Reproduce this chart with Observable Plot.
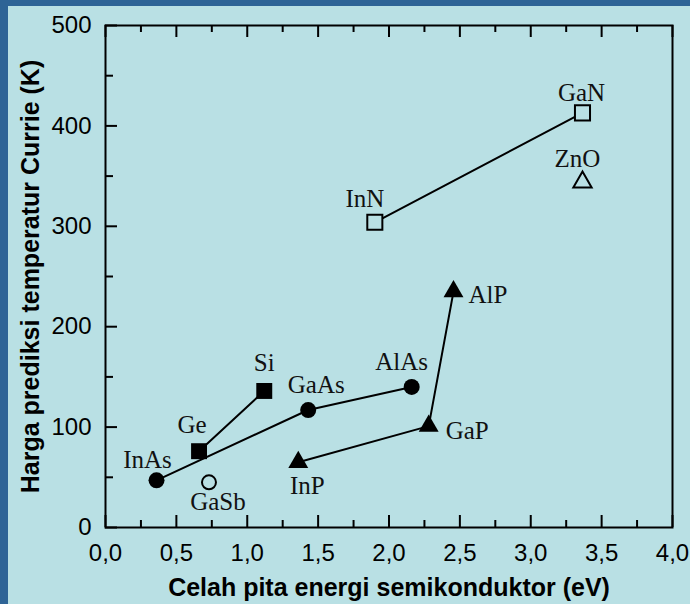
<!DOCTYPE html>
<html>
<head>
<meta charset="utf-8">
<script src="https://cdn.jsdelivr.net/npm/d3@7"></script>
<script src="https://cdn.jsdelivr.net/npm/@observablehq/plot@0.6"></script>
<style>
  html, body { margin: 0; padding: 0; background: #b9e0e4; }
  #wrap { width: 682px; height: 598px; border-left: 8px solid #2e6496; border-top: 6px solid #2e6496; background: #b9e0e4; }
</style>
</head>
<body>
<div id="wrap"></div>
<script>
// Data (band gap eV, predicted Curie temperature K)
const circleSeries = [
  {name: "InAs", gap: 0.36, tc: 47},
  {name: "GaAs", gap: 1.43, tc: 117},
  {name: "AlAs", gap: 2.16, tc: 140}
];
const squareSeries = [
  {name: "Ge", gap: 0.66, tc: 76},
  {name: "Si", gap: 1.12, tc: 136}
];
const triangleSeries = [
  {name: "InP", gap: 1.36, tc: 65},
  {name: "GaP", gap: 2.28, tc: 101},
  {name: "AlP", gap: 2.455, tc: 235}
];
const openSquareSeries = [
  {name: "InN", gap: 1.90, tc: 304},
  {name: "GaN", gap: 3.365, tc: 413}
];
const openCircles = [{name: "GaSb", gap: 0.73, tc: 45}];
const openTriangles = [{name: "ZnO", gap: 3.365, tc: 344}];

const xTicks = [0, 0.5, 1, 1.5, 2, 2.5, 3, 3.5, 4];
const xMinorTicks = [0.25, 0.75, 1.25, 1.75, 2.25, 2.75, 3.25, 3.75];
const yTicks = [0, 100, 200, 300, 400, 500];
const yMinorTicks = [50, 150, 250, 350, 450];
const xTitle = "Celah pita energi semikonduktor (eV)";
const yTitle = "Harga prediksi temperatur Currie (K)";

// label placement (pixel offsets, anchor)
const labelPlace = {
  InAs: [-9, -12, "middle"], Ge: [-7, -18, "middle"], Si: [0, -20, "middle"],
  GaSb: [9, 28, "middle"], GaAs: [8, -17, "middle"], AlAs: [-10, -17, "middle"],
  AlP: [15, 11, "start"], GaP: [17, 13, "start"], InP: [9, 32, "middle"],
  InN: [-10, -15, "middle"], GaN: [-1, -12, "middle"], ZnO: [-5, -15, "middle"]
};

const W = 682, H = 598;
const mL = 97, mR = 18, mT = 19, mB = 77;
const iw = W - mL - mR, ih = H - mT - mB;
const bg = "#b9e0e4";
const serif = "'Liberation Serif', 'Times New Roman', serif";

const allPoints = [...circleSeries, ...squareSeries, ...triangleSeries, ...openSquareSeries, ...openCircles, ...openTriangles];

const labelMarks = allPoints.map(p => {
  const [dx, dy, ta] = labelPlace[p.name];
  return Plot.text([p], {x: "gap", y: "tc", text: "name", dx, dy, textAnchor: ta, lineAnchor: "bottom",
    fontFamily: serif, fontSize: 25, fill: "#111"});
});

const fmt = d => d.toFixed(1).replace(".", ",");

const chart = Plot.plot({
  width: W, height: H,
  marginLeft: mL, marginRight: mR, marginTop: mT, marginBottom: mB,
  style: {background: bg, color: "#000", fontFamily: "'Liberation Sans', Arial, sans-serif", overflow: "visible"},
  x: {domain: [0, 4], axis: null},
  y: {domain: [0, 500], axis: null},
  marks: [
    // tick labels
    Plot.axisX(xTicks, {anchor: "bottom", tickSize: 0, tickPadding: 16, tickFormat: fmt, fontSize: 24, label: null}),
    Plot.axisY(yTicks, {anchor: "left", tickSize: 0, tickPadding: 14, tickFormat: d => String(d), fontSize: 24, label: null}),
    // inward ticks
    Plot.tickX(xTicks, {x: d => d, insetTop: ih - 12, strokeWidth: 2, stroke: "#000"}),
    Plot.tickX(xMinorTicks, {x: d => d, insetTop: ih - 7, strokeWidth: 2, stroke: "#000"}),
    Plot.tickX(xTicks, {x: d => d, insetBottom: ih - 12, strokeWidth: 2, stroke: "#000"}),
    Plot.tickX(xMinorTicks, {x: d => d, insetBottom: ih - 7, strokeWidth: 2, stroke: "#000"}),
    Plot.tickY(yTicks, {y: d => d, insetRight: iw - 12, strokeWidth: 2, stroke: "#000"}),
    Plot.tickY(yMinorTicks, {y: d => d, insetRight: iw - 8, strokeWidth: 2, stroke: "#000"}),
    Plot.frame({stroke: "#000", strokeWidth: 2}),
    // axis titles
    Plot.text([xTitle], {frameAnchor: "bottom", dy: 60, textAnchor: "middle", lineAnchor: "middle", text: d => d, fontWeight: "bold", fontSize: 25, fill: "#000"}),
    Plot.text([yTitle], {frameAnchor: "left", dx: -75, rotate: -90, textAnchor: "middle", lineAnchor: "middle", text: d => d, fontWeight: "bold", fontSize: 25, fill: "#000"}),
    // lines
    Plot.line(circleSeries, {x: "gap", y: "tc", stroke: "#000", strokeWidth: 2}),
    Plot.line(squareSeries, {x: "gap", y: "tc", stroke: "#000", strokeWidth: 2}),
    Plot.line(triangleSeries, {x: "gap", y: "tc", stroke: "#000", strokeWidth: 2}),
    Plot.line(openSquareSeries, {x: "gap", y: "tc", stroke: "#000", strokeWidth: 2}),
    // symbols
    Plot.dot(circleSeries, {x: "gap", y: "tc", r: 8, fill: "#000", stroke: "none"}),
    Plot.dot(squareSeries, {x: "gap", y: "tc", r: 9, symbol: "square", fill: "#000", stroke: "none"}),
    Plot.dot(triangleSeries, {x: "gap", y: "tc", r: 7.4, symbol: "triangle", fill: "#000", stroke: "none"}),
    Plot.dot(openSquareSeries, {x: "gap", y: "tc", r: 8.5, symbol: "square", fill: bg, stroke: "#000", strokeWidth: 2}),
    Plot.dot(openCircles, {x: "gap", y: "tc", r: 7, fill: bg, stroke: "#000", strokeWidth: 2}),
    Plot.dot(openTriangles, {x: "gap", y: "tc", r: 6.8, symbol: "triangle", fill: bg, stroke: "#000", strokeWidth: 2}),
    ...labelMarks
  ]
});
document.getElementById("wrap").appendChild(chart);
</script>
</body>
</html>
